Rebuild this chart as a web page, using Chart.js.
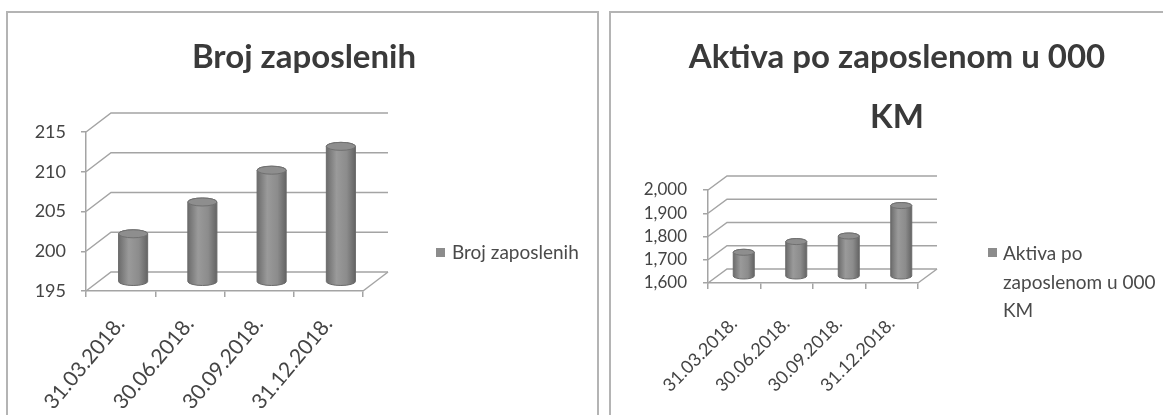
<!DOCTYPE html>
<html>
<head>
<meta charset="utf-8">
<script src="https://cdn.jsdelivr.net/npm/chart.js@4.4.1/dist/chart.umd.min.js"></script>
<style>
  body { margin: 0; background: #fff; width: 1163px; height: 415px; position: relative; overflow: hidden; font-family: Lato, sans-serif; }
  .panel { position: absolute; border: 2px solid #b4b4b4; box-sizing: border-box; }
  #panel1 { left: 6px; top: 11px; width: 593px; height: 420px; }
  #panel2 { left: 609px; top: 11px; width: 580px; height: 420px; }
  canvas { position: absolute; top: 0; }
  #chart1 { left: 0; }
  #chart2 { left: 600px; }
  .title { position: absolute; top: 25px; font-weight: 700; font-size: 33px; color: #3a3a3a; text-align: center; line-height: 60px; white-space: nowrap; }
  .legend { position: absolute; font-size: 19px; color: #4a4a4a; line-height: 28.5px; white-space: nowrap; }
  .legend .box { position: absolute; left: 0; width: 9px; height: 9px; background: #8c8c8c; }
</style>
</head>
<body>
<div class="panel" id="panel1"></div>
<div class="panel" id="panel2"></div>
<canvas id="chart1" width="600" height="415"></canvas>
<canvas id="chart2" width="563" height="415"></canvas>
<div class="title" style="left:104px;width:400px">Broj zaposlenih</div>
<div class="title" style="left:597px;width:600px">Aktiva po zaposlenom u 000<br>KM</div>
<div class="legend" style="left:436px;top:238px;padding-left:16px"><span class="box" style="top:10px"></span>Broj zaposlenih</div>
<div class="legend" style="left:988px;top:239px;padding-left:15px"><span class="box" style="top:9px"></span>Aktiva po<br>zaposlenom u 000<br>KM</div>
<script>
const labels = ['31.03.2018.', '30.06.2018.', '30.09.2018.', '31.12.2018.']
const employees = [201, 205, 209, 212]
const assetsPerEmployee = [1702, 1748, 1772, 1903]
const employeeTicks = [195, 215, 5]     // min, max, step
const assetTicks = [1600, 2000, 100]

// back wall, side wall and floor lines plus gray cylinders instead of flat bars
const cylinder3d = {
  id: 'cylinder3d',
  beforeDatasetsDraw(chart, args, opts) {
    const { ctx, chartArea: a, scales: { y } } = chart
    ctx.save()
    ctx.strokeStyle = '#a4a4a4'
    ctx.lineWidth = 1.5
    y.ticks.forEach(t => {
      const py = y.getPixelForValue(t.value)
      ctx.beginPath()
      ctx.moveTo(a.left, py)
      ctx.lineTo(a.left + opts.dx, py + opts.dy)
      ctx.lineTo(a.right + opts.dx, py + opts.dy)
      ctx.stroke()
    })
    ctx.beginPath()
    ctx.moveTo(a.right, a.bottom)
    ctx.lineTo(a.right + opts.dx, a.bottom + opts.dy)
    ctx.stroke()
    ctx.restore()
  },
  afterDatasetsDraw(chart, args, opts) {
    const ctx = chart.ctx
    const y = chart.scales.y
    const floor = y.getPixelForValue(y.min)
    chart.getDatasetMeta(0).data.forEach(bar => {
      const cx = bar.x + opts.dx / 2
      const top = bar.y + opts.dy / 2
      const bottom = floor + opts.dy / 2
      const r = bar.width / 2
      const ry = opts.ry
      const grad = ctx.createLinearGradient(cx - r, 0, cx + r, 0)
      grad.addColorStop(0, '#6c6c6c')
      grad.addColorStop(0.35, '#9a9a9a')
      grad.addColorStop(0.7, '#8c8c8c')
      grad.addColorStop(1, '#646464')
      ctx.save()
      ctx.beginPath()
      ctx.moveTo(cx - r, top)
      ctx.lineTo(cx - r, bottom)
      ctx.ellipse(cx, bottom, r, ry, 0, Math.PI, 0, true)
      ctx.lineTo(cx + r, top)
      ctx.ellipse(cx, top, r, ry, 0, 0, Math.PI, true)
      ctx.closePath()
      ctx.fillStyle = grad
      ctx.fill()
      ctx.strokeStyle = '#6a6a6a'
      ctx.lineWidth = 1
      ctx.stroke()
      ctx.beginPath()
      ctx.ellipse(cx, top, r, ry, 0, 0, Math.PI * 2)
      ctx.fillStyle = '#8e8e8e'
      ctx.fill()
      ctx.strokeStyle = '#707070'
      ctx.stroke()
      ctx.restore()
    })
  }
}

function createCylinderChart(canvas, values, range, setup) {
  new Chart(canvas.getContext('2d'), {
    type: 'bar',
    data: {
      labels: labels,
      datasets: [{
        data: values,
        backgroundColor: 'rgba(0,0,0,0)',
        barPercentage: setup.barPercentage,
        categoryPercentage: 1
      }]
    },
    plugins: [cylinder3d],
    options: {
      responsive: false,
      animation: false,
      layout: { padding: setup.padding },
      plugins: {
        legend: { display: false },
        title: { display: false },
        tooltip: { enabled: false },
        cylinder3d: { dx: setup.dx, dy: setup.dy, ry: setup.ry }
      },
      scales: {
        x: {
          afterFit: scale => { scale.height = 120 },
          grid: { drawOnChartArea: false, tickLength: 6, color: '#a4a4a4', lineWidth: 1.5 },
          border: { color: '#a4a4a4', width: 1.5 },
          ticks: {
            minRotation: setup.labelRotation, maxRotation: setup.labelRotation,
            autoSkip: false, padding: setup.labelPadding,
            color: '#444', font: { family: 'Lato', size: setup.labelSize }
          }
        },
        y: {
          min: range[0],
          max: range[1],
          afterFit: scale => { scale.width = setup.axisWidth },
          grid: { drawOnChartArea: false, tickLength: 5, color: '#a4a4a4', lineWidth: 1.5 },
          border: { color: '#a4a4a4', width: 1.5 },
          ticks: {
            stepSize: range[2], autoSkip: false, padding: setup.tickPadding,
            color: '#444', font: { family: 'Lato', size: setup.tickSize },
            callback: v => v.toLocaleString('en-US')
          }
        }
      }
    }
  })
}

createCylinderChart(document.getElementById('chart1'), employees, employeeTicks, {
  padding: { top: 132, right: 237, bottom: 4, left: 0 },
  axisWidth: 86, tickPadding: 15, tickSize: 18,
  labelRotation: 50, labelSize: 21, labelPadding: 15,
  barPercentage: 0.42, dx: 25, dy: -19, ry: 4
})

createCylinderChart(document.getElementById('chart2'), assetsPerEmployee, assetTicks, {
  padding: { top: 190, right: 245, bottom: 12, left: 0 },
  axisWidth: 108, tickPadding: 16, tickSize: 17,
  labelRotation: 45, labelSize: 18, labelPadding: 24,
  barPercentage: 0.40, dx: 19, dy: -14, ry: 3
})
</script>
</body>
</html>
